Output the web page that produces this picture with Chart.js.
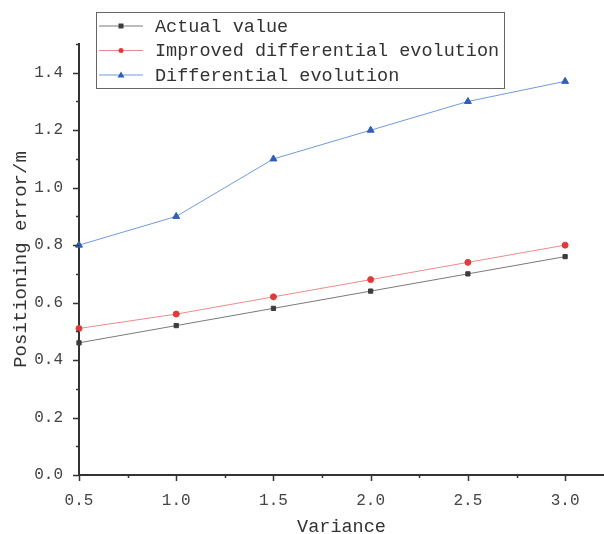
<!DOCTYPE html>
<html>
<head>
<meta charset="utf-8">
<script src="https://cdn.jsdelivr.net/npm/chart.js@4"></script>
<style>
  html, body { margin: 0; padding: 0; background: #fff; overflow: hidden; }
  canvas { display: block; }
</style>
</head>
<body>
<canvas id="myChart" width="604" height="534"></canvas>
<script>
const variance = [0.5, 1.0, 1.5, 2.0, 2.5, 3.0];
const actualValue = [0.46, 0.52, 0.58, 0.64, 0.70, 0.76];
const improvedDE = [0.51, 0.56, 0.62, 0.68, 0.74, 0.80];
const plainDE = [0.80, 0.90, 1.10, 1.20, 1.30, 1.37];
const xTicks = [0.5, 1.0, 1.5, 2.0, 2.5, 3.0];
const yTicks = [0.0, 0.2, 0.4, 0.6, 0.8, 1.0, 1.2, 1.4];

const FONT = '"Liberation Mono", monospace';

function pts(ys) {
  return variance.map((x, i) => ({ x: x, y: ys[i] }));
}

// tick marks (major + minor) and the legend box, drawn over the scales
const extras = {
  id: 'extras',
  afterDraw(chart) {
    const ctx = chart.ctx;
    const xs = chart.scales.x, ys = chart.scales.y;
    const area = chart.chartArea;
    ctx.save();
    ctx.strokeStyle = '#333';
    ctx.lineWidth = 1.5;
    ctx.beginPath();
    for (let v = 0.5; v <= 3.01; v += 0.25) {
      const px = Math.round(xs.getPixelForValue(v)) + 0.5;
      const major = Math.abs(v * 2 - Math.round(v * 2)) < 1e-6;
      ctx.moveTo(px, area.bottom);
      ctx.lineTo(px, area.bottom + (major ? 6 : 3));
    }
    for (let v = 0; v <= 1.51; v += 0.1) {
      const py = Math.round(ys.getPixelForValue(v)) + 0.5;
      const major = Math.round(v * 10) % 2 === 0;
      ctx.moveTo(area.left, py);
      ctx.lineTo(area.left - (major ? 6 : 3), py);
    }
    ctx.stroke();

    // legend
    const bx = 96.5, by = 12.5, bw = 408, bh = 76;
    ctx.fillStyle = '#fff';
    ctx.fillRect(bx, by, bw, bh);
    ctx.strokeStyle = '#666';
    ctx.lineWidth = 1;
    ctx.strokeRect(bx, by, bw, bh);
    ctx.font = '18.5px ' + FONT;
    ctx.textBaseline = 'middle';
    chart.data.datasets.forEach((ds, i) => {
      const cy = 26 + i * 24.5;
      ctx.strokeStyle = ds.borderColor;
      ctx.lineWidth = 1;
      ctx.beginPath();
      ctx.moveTo(99, cy);
      ctx.lineTo(143, cy);
      ctx.stroke();
      ctx.fillStyle = ds.pointBackgroundColor;
      const mx = 121;
      ctx.beginPath();
      if (ds.pointStyle === 'rect') {
        ctx.fillRect(mx - 2.5, cy - 2.5, 5, 5);
      } else if (ds.pointStyle === 'circle') {
        ctx.arc(mx, cy, 2.5, 0, Math.PI * 2);
        ctx.fill();
      } else {
        ctx.moveTo(mx, cy - 3.5);
        ctx.lineTo(mx + 3.5, cy + 2.5);
        ctx.lineTo(mx - 3.5, cy + 2.5);
        ctx.closePath();
        ctx.fill();
      }
      ctx.fillStyle = '#333';
      ctx.fillText(ds.label, 155, cy + 1);
    });
    ctx.restore();
  }
};

new Chart(document.getElementById('myChart'), {
  type: 'line',
  data: {
    datasets: [
      {
        label: 'Actual value',
        data: pts(actualValue),
        borderColor: '#7a7a7a',
        pointBackgroundColor: '#3c3c3c',
        pointBorderColor: '#3c3c3c',
        pointStyle: 'rect',
        pointRadius: 3,
        borderWidth: 1,
        tension: 0
      },
      {
        label: 'Improved differential evolution',
        data: pts(improvedDE),
        borderColor: '#f08a8a',
        pointBackgroundColor: '#e03a3a',
        pointBorderColor: '#e03a3a',
        pointStyle: 'circle',
        pointRadius: 3,
        borderWidth: 1,
        tension: 0
      },
      {
        label: 'Differential evolution',
        data: pts(plainDE),
        borderColor: '#6f9be0',
        pointBackgroundColor: '#2f5fb8',
        pointBorderColor: '#2f5fb8',
        pointStyle: 'triangle',
        pointRadius: 4,
        borderWidth: 1,
        tension: 0
      }
    ]
  },
  options: {
    responsive: false,
    animation: false,
    clip: false,
    layout: { autoPadding: false, padding: { top: 44, right: 0, left: 0, bottom: 0 } },
    plugins: { legend: { display: false }, tooltip: { enabled: false } },
    scales: {
      x: {
        type: 'linear',
        min: 0.5,
        max: 3.2,
        afterBuildTicks(scale) { scale.ticks = xTicks.map(v => ({ value: v })); },
        afterFit(scale) {
          scale.height = 59;
          scale.paddingLeft = 0;
          scale.paddingRight = 0;
        },
        grid: { display: false },
        border: { display: true, color: '#333', width: 2 },
        ticks: {
          padding: 8,
          color: '#444',
          font: { family: FONT, size: 16 },
          callback: v => v.toFixed(1)
        },
        title: {
          display: true,
          text: 'Variance',
          color: '#333',
          font: { family: FONT, size: 18.5, lineHeight: 1.0 },
          padding: { top: 0, bottom: -2 }
        }
      },
      y: {
        min: 0,
        max: 1.5,
        afterBuildTicks(scale) { scale.ticks = yTicks.map(v => ({ value: v })); },
        afterFit(scale) { scale.width = 79; },
        grid: { display: false },
        border: { display: true, color: '#333', width: 2 },
        ticks: {
          padding: 8,
          color: '#444',
          font: { family: FONT, size: 16 },
          callback: v => v.toFixed(1)
        },
        title: {
          display: true,
          text: 'Positioning error/m',
          color: '#333',
          font: { family: FONT, size: 19 },
          padding: { top: 10, bottom: 0 }
        }
      }
    }
  },
  plugins: [extras]
});
</script>
</body>
</html>
